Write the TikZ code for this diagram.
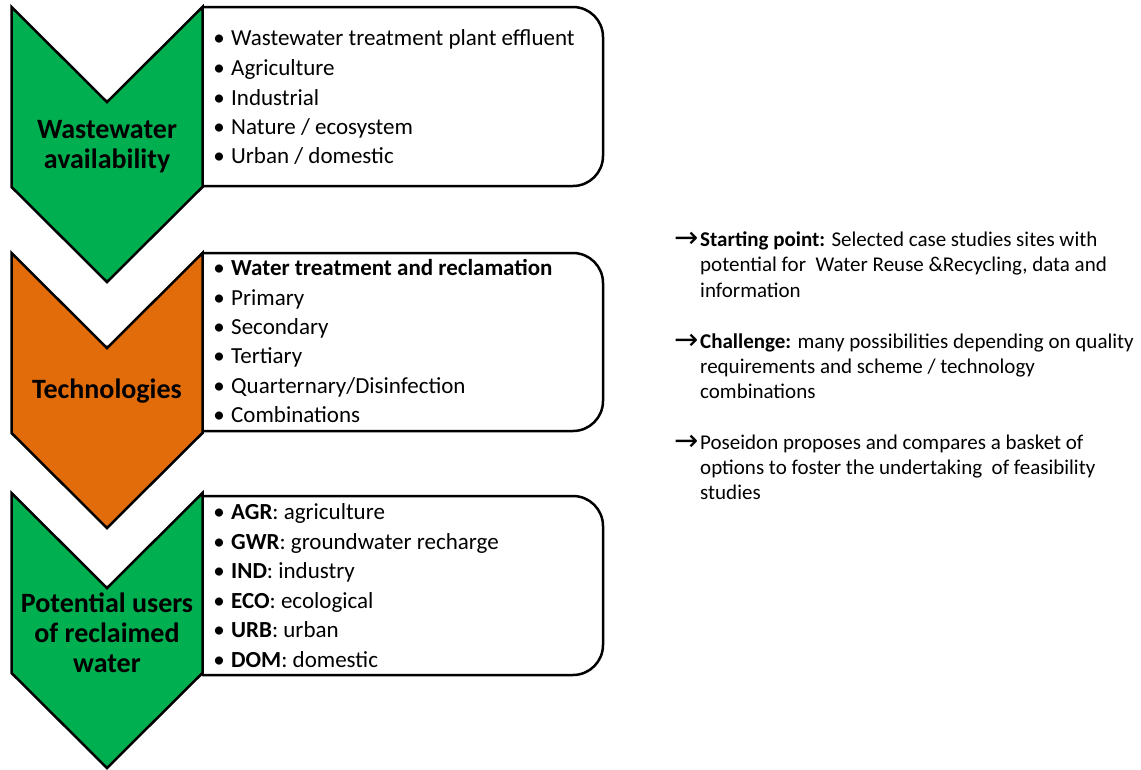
\documentclass[tikz,border=0pt]{standalone}
\usepackage{fontspec}
\setmainfont{Carlito}
\newfontfamily\symfont{DejaVu Sans}
\definecolor{chgreen}{HTML}{00B050}
\definecolor{chorange}{HTML}{E36C0A}

\tikzset{
  chevron/.pic={
    \draw[line width=2.5pt, line join=miter, fill=#1]
      (-95.5,0) -- (0,95) -- (95.5,0) -- (95.5,180) -- (0,275) -- (-95.5,180) -- cycle;
  },
  listbox/.style={draw=black, line width=2.5pt, fill=white, rounded corners=30pt},
  itemtext/.style={anchor=base west, inner sep=0pt, font=\fontsize{23}{28}\selectfont},
  bullet/.style={anchor=base, inner sep=0pt, font=\fontsize{23}{28}\selectfont},
  stagetitle/.style={anchor=base, inner sep=0pt, font=\fontsize{28}{32}\selectfont\bfseries},
  note/.style={anchor=base west, inner sep=0pt, font=\fontsize{21}{25}\selectfont},
  notearrow/.style={anchor=base west, inner sep=0pt, font=\symfont\fontsize{29}{30}\selectfont},
}

\begin{document}
\begin{tikzpicture}[x=1pt, y=-1pt]
\useasboundingbox (0,0) rectangle (1141,769);

% list boxes behind the chevrons
\draw[listbox] (202,7)   -- (603,7)   -- (603,186) -- (202,186);
\draw[listbox] (202,253) -- (603,253) -- (603,431) -- (202,431);
\draw[listbox] (202,496) -- (603,496) -- (603,675) -- (202,675);

% the three stage chevrons
\pic at (107,7)   {chevron=chgreen};
\pic at (107,253) {chevron=chorange};
\pic at (107,493) {chevron=chgreen};

% stage titles
\node[stagetitle] (t1a) at (107,138) {Wastewater};
\node[stagetitle] (t1b) at (107,168) {availability};
\node[stagetitle] (t2)  at (107,398) {Technologies};
\node[stagetitle] (t3a) at (107,612) {Potential users};
\node[stagetitle] (t3b) at (107,642) {of reclaimed};
\node[stagetitle] (t3c) at (107,672) {water};

% bulleted lists
\foreach \y/\txt [count=\i] in {
    45/{Wastewater treatment plant effluent},
    75/{Agriculture},
    105/{Industrial},
    134/{Nature / ecosystem},
    163/{Urban / domestic}} {
  \node[bullet] (b1d\i) at (219,\y) {•};
  \node[itemtext] (b1t\i) at (231,\y) {\txt};
}
\foreach \y/\txt [count=\i] in {
    275/{\textbf{Water treatment and reclamation}},
    305/{Primary},
    334/{Secondary},
    363/{Tertiary},
    393/{Quarternary/Disinfection},
    422/{Combinations}} {
  \node[bullet] (b2d\i) at (219,\y) {•};
  \node[itemtext] (b2t\i) at (231,\y) {\txt};
}
\foreach \y/\txt [count=\i] in {
    519/{\textbf{AGR}: agriculture},
    549/{\textbf{GWR}: groundwater recharge},
    578/{\textbf{IND}: industry},
    608/{\textbf{ECO}: ecological},
    637/{\textbf{URB}: urban},
    667/{\textbf{DOM}: domestic}} {
  \node[bullet] (b3d\i) at (219,\y) {•};
  \node[itemtext] (b3t\i) at (231,\y) {\txt};
}

% notes on the right
\node[notearrow] (a1) at (674,247) {→};
\node[note] (n1a) at (700,246) {\textbf{Starting point:} Selected case studies sites with};
\node[note] (n1b) at (700,271) {potential for \ Water Reuse \&Recycling, data and};
\node[note] (n1c) at (700,297) {information};

\node[notearrow] (a2) at (674,349) {→};
\node[note] (n2a) at (700,348) {\textbf{Challenge:} many possibilities depending on quality};
\node[note] (n2b) at (700,373) {requirements and scheme / technology};
\node[note] (n2c) at (700,398) {combinations};

\node[notearrow] (a3) at (674,450) {→};
\node[note] (n3a) at (700,449) {Poseidon proposes and compares a basket of};
\node[note] (n3b) at (700,474) {options to foster the undertaking \ of feasibility};
\node[note] (n3c) at (700,499) {studies};
\end{tikzpicture}
\end{document}
